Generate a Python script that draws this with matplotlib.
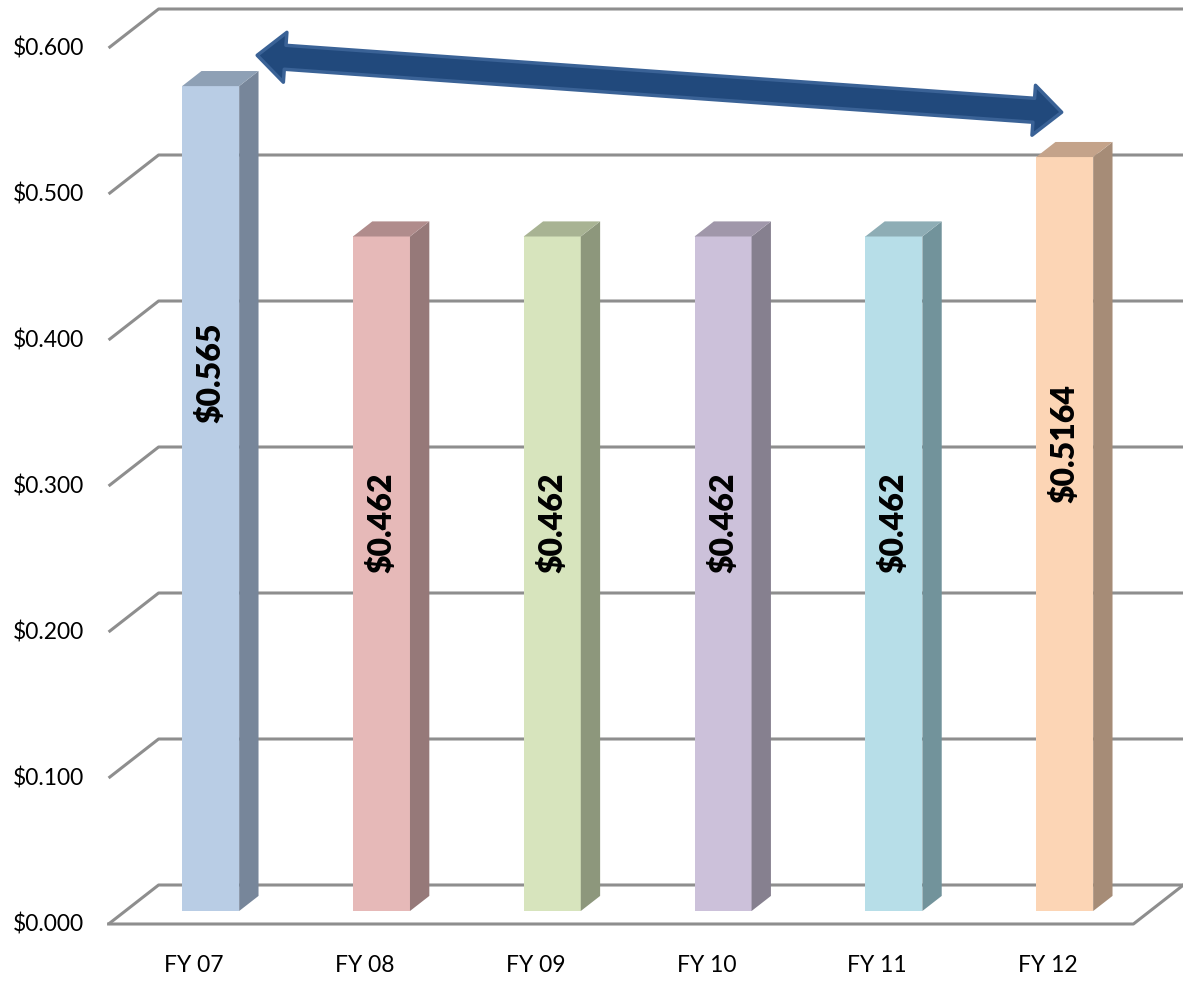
"""
Excel-style 3D column chart of FY07-FY12 rates, redrawn in plain matplotlib.
Depth is faked with a fixed oblique offset for walls, floor and bar sides.
"""

import numpy as np
import matplotlib.pyplot as plt
from matplotlib.patches import Polygon

plt.rcParams["font.family"] = ["Lato", "DejaVu Sans"]

categories = ["FY 07", "FY 08", "FY 09", "FY 10", "FY 11", "FY 12"]
values = [0.565, 0.462, 0.462, 0.462, 0.462, 0.5164]
value_labels = ["$0.565", "$0.462", "$0.462", "$0.462", "$0.462", "$0.5164"]
y_ticks = [0.0, 0.1, 0.2, 0.3, 0.4, 0.5, 0.6]
y_tick_labels = ["$0.000", "$0.100", "$0.200", "$0.300", "$0.400", "$0.500", "$0.600"]

front_colors = ["#B9CDE5", "#E6B9B8", "#D7E4BD", "#CCC1DA", "#B7DEE8", "#FCD5B5"]
side_colors = ["#77869A", "#967979", "#8D977C", "#86808F", "#72939B", "#A68C77"]
top_colors = ["#8EA0B5", "#B08C8C", "#A8B393", "#A097AA", "#8EADB5", "#C4A38A"]

# layout (pixels of the 1183x981 canvas)
W, H = 1183, 981
X0_PX, X_STEP = 194.0, 170.8      # category 0 centre on the front plane
Y0_PX, Y_SCALE = 924.0, 1460.0    # value 0 on the front plane, px per 1.0
DX, DY = 50 / X_STEP, 39 / Y_SCALE  # full floor depth, in data units
BAR_W = 0.334
D_FRONT, D_BACK = 0.333, 0.72
GRID = "#8E8E8E"

fig = plt.figure(figsize=(W / 100, H / 100), dpi=100)
ax = fig.add_axes([0, 0, 1, 1])
ax.set_xlim(-X0_PX / X_STEP, (W - X0_PX) / X_STEP)
ax.set_ylim((Y0_PX - H) / Y_SCALE, Y0_PX / Y_SCALE)
ax.axis("off")

left, right = -0.5, len(categories) - 0.5

# walls: back gridlines + left side diagonals
for v in y_ticks:
    ax.plot([left, left + DX, right + DX], [v, v + DY, v + DY],
            color=GRID, lw=2.2, solid_capstyle="butt", zorder=1)
# floor front edge + right edge
ax.plot([left, right, right + DX], [0, 0, DY], color=GRID, lw=2.2, zorder=1)

# tick labels
for v, lab in zip(y_ticks, y_tick_labels):
    ax.text((84 - X0_PX) / X_STEP, v, lab, ha="right", va="center", fontsize=16.5)
for i, cat in enumerate(categories):
    ax.text(i, (Y0_PX - 966) / Y_SCALE, cat, ha="center", va="center", fontsize=16.5)

# bars
ox, oy = D_FRONT * DX, D_FRONT * DY
sx, sy = (D_BACK - D_FRONT) * DX, (D_BACK - D_FRONT) * DY
xs = np.arange(len(categories)) + ox
ax.bar(xs, values, width=BAR_W, bottom=oy, color=front_colors, zorder=3)
for i, v in enumerate(values):
    x1 = xs[i] + BAR_W / 2
    x0 = xs[i] - BAR_W / 2
    side = [(x1, oy), (x1 + sx, oy + sy), (x1 + sx, v + oy + sy), (x1, v + oy)]
    top = [(x0, v + oy), (x1, v + oy), (x1 + sx, v + oy + sy), (x0 + sx, v + oy + sy)]
    ax.add_patch(Polygon(side, closed=True, fc=side_colors[i], ec="none", zorder=3))
    ax.add_patch(Polygon(top, closed=True, fc=top_colors[i], ec="none", zorder=3))
    ax.text(xs[i], v + oy - 0.196, value_labels[i], rotation=90, ha="center",
            va="center", fontsize=23, fontweight="heavy", zorder=5)


def double_arrow(p0, p1, shaft, head_w, head_len):
    p0, p1 = np.asarray(p0, float), np.asarray(p1, float)
    u = (p1 - p0) / np.linalg.norm(p1 - p0)
    n = np.array([-u[1], u[0]])
    a, b = p0 + u * head_len, p1 - u * head_len
    return np.array([
        p0, a + n * head_w / 2, a + n * shaft / 2, b + n * shaft / 2,
        b + n * head_w / 2, p1, b - n * head_w / 2, b - n * shaft / 2,
        a - n * shaft / 2, a - n * head_w / 2,
    ])


# arrow built in pixel space so the head keeps its shape, then mapped back
tips = ax.transData.transform([(0.37, 0.595), (5.08, 0.556)])
pts = double_arrow(tips[0], tips[1], shaft=24, head_w=50, head_len=28)
pts = ax.transData.inverted().transform(pts)
ax.add_patch(Polygon(pts, closed=True, fc="#21497C", ec="#3A6296",
                     lw=2.5, joinstyle="round", zorder=6))

fig.savefig("out.png", dpi=100)
